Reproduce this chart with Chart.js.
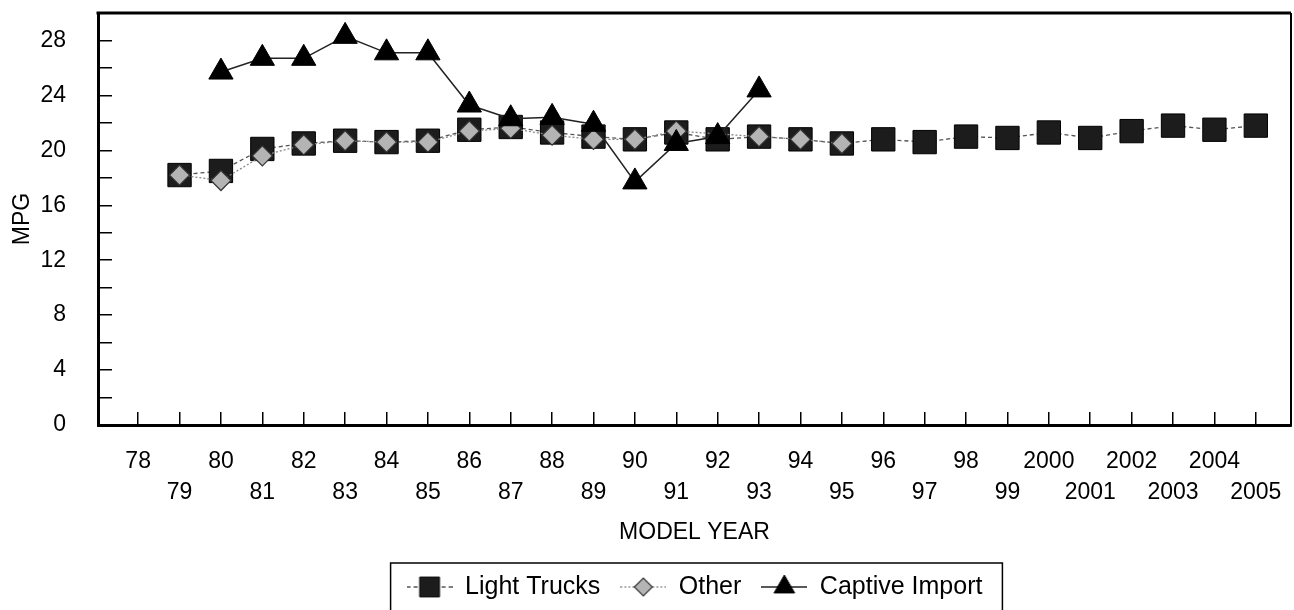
<!DOCTYPE html>
<html>
<head>
<meta charset="utf-8">
<script src="https://cdn.jsdelivr.net/npm/chart.js@4.4.1/dist/chart.umd.min.js"></script>
<style>
  html, body { margin: 0; padding: 0; background: #fff; }
  #wrap { width: 1294px; height: 610px; position: relative; }
</style>
</head>
<body>
<div id="wrap"><canvas id="c" width="1294" height="610"></canvas></div>
<script>
// ---- data ----
const years = ['78','79','80','81','82','83','84','85','86','87','88','89','90','91','92','93','94','95','96','97','98','99','2000','2001','2002','2003','2004','2005'];
const lightTrucks = [null, 18.2, 18.5, 20.1, 20.5, 20.7, 20.6, 20.7, 21.5, 21.7, 21.3, 21.0, 20.8, 21.3, 20.8, 21.0, 20.8, 20.5, 20.8, 20.6, 21.0, 20.9, 21.3, 20.9, 21.4, 21.8, 21.5, 21.8];
const other = [null, 18.2, 17.8, 19.6, 20.4, 20.7, 20.6, 20.6, 21.4, 21.6, 21.1, 20.8, 20.8, 21.4, null, 21.0, 20.8, 20.5, null, null, null, null, null, null, null, null, null, null];
const captiveImport = [null, null, 25.7, 26.7, 26.7, 28.3, 27.1, 27.1, 23.3, 22.3, 22.4, 21.9, 17.7, 20.5, 21.0, 24.4, null, null, null, null, null, null, null, null, null, null, null, null];
const seriesNames = ['Light Trucks', 'Other', 'Captive Import'];
const yTicks = [0, 4, 8, 12, 16, 20, 24, 28];

const FONT = "'Liberation Sans', Arial, Helvetica, sans-serif";

function pts(arr) { return arr.map((v, i) => ({ x: i, y: v })); }

const styles = [
  { pointStyle: 'rect', radius: 16.5, bg: '#1c1c1c', border: '#000', bw: 1, line: '#555', lw: 1.3, dash: [4, 3] },
  { pointStyle: 'rectRot', radius: 10, bg: '#b4b4b4', border: '#333', bw: 1.2, line: '#888', lw: 1.3, dash: [2, 2] },
  { pointStyle: 'triangle', radius: 14, bg: '#000', border: '#000', bw: 1, line: '#222', lw: 1.5, dash: [] }
];
const ICON_W = 46;

function legendIcon(s, scale) {
  const cv = document.createElement('canvas');
  cv.width = ICON_W; cv.height = 28;
  const c = cv.getContext('2d');
  c.strokeStyle = s.line; c.lineWidth = 1.3; c.setLineDash(s.dash.length ? s.dash : []);
  c.beginPath(); c.moveTo(0, 14); c.lineTo(ICON_W, 14); c.stroke();
  c.setLineDash([]);
  c.fillStyle = s.bg; c.strokeStyle = s.border; c.lineWidth = s.bw;
  Chart.helpers.drawPoint(c, { pointStyle: s.pointStyle, radius: s.radius * scale, rotation: 0, borderWidth: s.bw }, ICON_W / 2, 14);
  return cv;
}

const frame = {
  id: 'frame',
  afterDraw(chart) {
    const { ctx, chartArea: a } = chart;
    ctx.save();
    ctx.strokeStyle = '#000';
    ctx.lineWidth = 3;
    ctx.beginPath(); ctx.moveTo(a.left - 1.5, a.top); ctx.lineTo(a.right, a.top); ctx.stroke();
    ctx.lineWidth = 2;
    ctx.beginPath(); ctx.moveTo(a.right, a.top); ctx.lineTo(a.right, a.bottom + 1.5); ctx.stroke();
    // legend box
    const lg = chart.legend;
    if (lg && lg.legendHitBoxes && lg.legendHitBoxes.length) {
      let l = Infinity, r = -Infinity, t = Infinity;
      lg.legendHitBoxes.forEach(h => { l = Math.min(l, h.left); r = Math.max(r, h.left + h.width); t = Math.min(t, h.top); });
      ctx.lineWidth = 1.5;
      ctx.strokeRect(l - 16, t - 11.5, (r - l) + 36, 90);
    }
    ctx.restore();
  }
};

const ctx = document.getElementById('c').getContext('2d');
const chart = new Chart(ctx, {
  type: 'line',
  data: {
    datasets: [lightTrucks, other, captiveImport].map((arr, k) => ({
      label: seriesNames[k],
      data: pts(arr),
      order: 3 - k,
      borderColor: styles[k].line,
      borderWidth: styles[k].lw,
      borderDash: styles[k].dash,
      backgroundColor: styles[k].bg,
      pointStyle: styles[k].pointStyle,
      pointRadius: styles[k].radius,
      pointHoverRadius: styles[k].radius,
      pointBackgroundColor: styles[k].bg,
      pointBorderColor: styles[k].border,
      pointBorderWidth: styles[k].bw,
      tension: 0,
      spanGaps: true,
      fill: false,
      clip: false
    }))
  },
  options: {
    responsive: false,
    animation: false,
    events: [],
    layout: { autoPadding: false, padding: { top: 0, right: 3, bottom: 0.5, left: 0 } },
    scales: {
      x: {
        type: 'linear',
        min: -0.97,
        max: 27.85,
        afterBuildTicks(scale) { scale.ticks = years.map((_, i) => ({ value: i })); },
        afterFit(scale) { scale.height = 129.5; scale.paddingLeft = 0; scale.paddingRight = 0; },
        grid: { display: true, drawOnChartArea: false, drawTicks: true, tickLength: -13, color: '#000', lineWidth: 1.5 },
        border: { display: true, color: '#000', width: 3 },
        ticks: {
          autoSkip: false, maxRotation: 0, minRotation: 0,
          padding: 34,
          color: '#000',
          font: { family: FONT, size: 23, lineHeight: 1.348 },
          callback: (v) => { const i = Math.round(v); const t = years[i]; return i % 2 === 0 ? [t, ''] : ['', t]; }
        },
        title: { display: true, text: 'MODEL YEAR', color: '#000', font: { family: FONT, size: 23 }, padding: { top: 9, bottom: 7.7 } }
      },
      y: {
        min: 0, max: 30,
        afterBuildTicks(scale) { const t = []; for (let v = 0; v <= 30; v += 2) t.push({ value: v }); scale.ticks = t; },
        afterFit(scale) { scale.width = 98; scale.paddingTop = 13; scale.paddingBottom = 0; },
        grid: { display: true, drawOnChartArea: false, drawTicks: true, tickLength: -14, color: '#000', lineWidth: 1.5 },
        border: { display: true, color: '#000', width: 3 },
        ticks: {
          autoSkip: false, padding: 46, color: '#000',
          font: { family: FONT, size: 23 },
          callback: (v) => yTicks.includes(v) ? String(v) : ''
        },
        title: { display: true, text: 'MPG', color: '#000', font: { family: FONT, size: 23 }, padding: { top: 9, bottom: 5 } }
      }
    },
    plugins: {
      tooltip: { enabled: false },
      legend: {
        position: 'bottom',
        fullSize: false,
        labels: {
          usePointStyle: true,
          pointStyleWidth: ICON_W,
          padding: 20,
          color: '#000',
          font: { family: FONT, size: 25 },
          generateLabels(ch) {
            return ch.data.datasets.map((d, i) => ({
              text: d.label,
              pointStyle: legendIcon(styles[i], i === 0 ? 0.85 : (i === 1 ? 0.9 : 0.85)),
              fillStyle: styles[i].bg,
              strokeStyle: styles[i].border,
              lineWidth: 0,
              hidden: false,
              datasetIndex: i,
              fontColor: '#000'
            }));
          }
        }
      }
    }
  },
  plugins: [frame]
});
</script>
</body>
</html>
